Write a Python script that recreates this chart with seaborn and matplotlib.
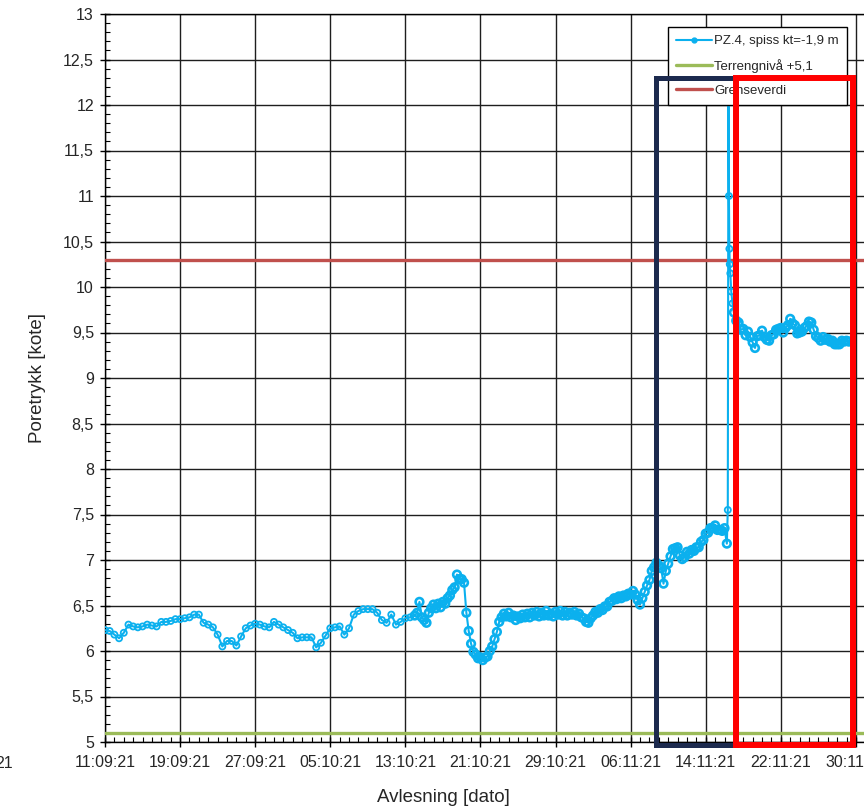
import numpy as np
import pandas as pd
import matplotlib
matplotlib.use("Agg")
import matplotlib.pyplot as plt
import matplotlib.dates as mdates
from matplotlib.ticker import FixedLocator, MultipleLocator, FuncFormatter
from matplotlib.patches import Rectangle
from matplotlib.lines import Line2D
import seaborn as sns

# ---------------------------------------------------------------- data
start_date = "2021-09-11"

# Manual readings, twice a day (11.09 - 13.10)
manual_vals = [
    6.23, 6.22, 6.18, 6.14, 6.20, 6.29, 6.27, 6.26, 6.27, 6.29,
    6.28, 6.27, 6.32, 6.32, 6.33, 6.35, 6.35, 6.36, 6.37, 6.40,
    6.40, 6.31, 6.29, 6.26, 6.18, 6.05, 6.11, 6.11, 6.06, 6.16,
    6.25, 6.28, 6.30, 6.29, 6.27, 6.26, 6.32, 6.29, 6.26, 6.23,
    6.20, 6.14, 6.15, 6.15, 6.15, 6.04, 6.09, 6.17, 6.25, 6.26,
    6.27, 6.18, 6.25, 6.40, 6.44, 6.46, 6.46, 6.46, 6.42, 6.34,
    6.31, 6.40, 6.29, 6.32, 6.36, 6.37,
]

# Logger readings every 6 hours (14.10 - 17.11)
logger_vals = [
    6.39, 6.42, 6.54, 6.37, 6.34, 6.31, 6.42, 6.47,
    6.51, 6.47, 6.52, 6.48, 6.54, 6.52, 6.58, 6.61,
    6.67, 6.70, 6.84, 6.79, 6.79, 6.75, 6.42, 6.22,
    6.08, 5.99, 5.96, 5.92, 5.93, 5.90, 5.93, 5.94,
    6.00, 6.05, 6.13, 6.21, 6.32, 6.37, 6.41, 6.38,
    6.42, 6.37, 6.39, 6.34, 6.38, 6.36, 6.40, 6.37,
    6.41, 6.37, 6.42, 6.39, 6.43, 6.38, 6.42, 6.39,
    6.44, 6.39, 6.41, 6.38, 6.43, 6.40, 6.44, 6.39,
    6.43, 6.39, 6.42, 6.40, 6.43, 6.39, 6.41, 6.37,
    6.36, 6.32, 6.31, 6.36, 6.39, 6.43, 6.42, 6.46,
    6.45, 6.49, 6.49, 6.54, 6.55, 6.58, 6.57, 6.60,
    6.58, 6.61, 6.60, 6.63, 6.62, 6.66, 6.62, 6.56,
    6.51, 6.58, 6.65, 6.72, 6.78, 6.88, 6.92, 6.97,
    6.94, 6.91, 6.74, 6.88, 6.96, 7.04, 7.12, 7.13,
    7.14, 7.05, 7.01, 7.03, 7.09, 7.07, 7.11, 7.10,
    7.14, 7.14, 7.20, 7.22, 7.29, 7.30, 7.35, 7.35,
    7.38, 7.33, 7.33, 7.32, 7.35, 7.18,
]

# Pressure peak on 17.11 (days after start date)
peak_days = [66.35, 66.42, 66.47, 66.52, 66.56, 66.62, 66.72, 66.85]
peak_vals = [7.55, 12.05, 11.00, 10.42, 10.25, 10.15, 9.95, 9.82]

# Logger readings every 6 hours after the peak (18.11 - 30.11)
after_vals = [
    9.72, 9.63, 9.61, 9.53, 9.54, 9.47, 9.51, 9.45,
    9.39, 9.33, 9.46, 9.47, 9.52, 9.45, 9.42, 9.41,
    9.47, 9.48, 9.53, 9.54, 9.55, 9.50, 9.55, 9.58,
    9.65, 9.60, 9.58, 9.49, 9.50, 9.51, 9.55, 9.57,
    9.62, 9.61, 9.53, 9.46, 9.44, 9.41, 9.45, 9.42,
    9.43, 9.40, 9.41, 9.37, 9.37, 9.37, 9.41, 9.40,
    9.41, 9.40,
]

terrain_level = 5.1
limit_value = 10.3

series_label = "PZ.4, spiss kt=-1,9 m"
terrain_label = "Terrengnivå +5,1"
limit_label = "Grenseverdi"

# ---------------------------------------------------------------- timestamps
t0 = pd.Timestamp(start_date)
t_manual = pd.date_range(t0, periods=len(manual_vals), freq="12h")
t_logger = pd.date_range(t0 + pd.Timedelta(days=33), periods=len(logger_vals), freq="6h")
t_peak = t0 + pd.to_timedelta(peak_days, unit="D")
t_after = pd.date_range(t0 + pd.Timedelta(days=67), periods=len(after_vals), freq="6h")

df = pd.DataFrame({
    "Avlesning": list(t_manual) + list(t_logger) + list(t_peak) + list(t_after),
    "Poretrykk": manual_vals + logger_vals + peak_vals + after_vals,
    "Kilde": (["manuell"] * len(manual_vals) + ["logger"] * len(logger_vals)
              + ["topp"] * len(peak_vals) + ["logger"] * len(after_vals)),
})

# ---------------------------------------------------------------- style
sns.set_theme(style="white")
plt.rcParams["font.family"] = ["Liberation Sans", "DejaVu Sans"]

BLUE = "#0bb0ee"
GREEN = "#9bbb59"
RED_LINE = "#c0504d"
NAVY = "#1c2a4e"
RED_BOX = "#ff0000"
TXT = "#262626"

fig = plt.figure(figsize=(8.64, 8.09), dpi=100)
ax = fig.add_axes([105 / 864, 1 - 742 / 809, 826 / 864, 728 / 809])

# measured curve: the connecting line, then the reading markers
sns.lineplot(data=df, x="Avlesning", y="Poretrykk", ax=ax, estimator=None,
             sort=False, color=BLUE, lw=1.5, zorder=4, legend=False)
sns.scatterplot(data=df[df["Kilde"] != "logger"], x="Avlesning", y="Poretrykk",
                ax=ax, marker="o", s=19, facecolors="none", edgecolor=BLUE,
                linewidth=1.3, zorder=5, legend=False)
sns.scatterplot(data=df[df["Kilde"] == "logger"], x="Avlesning", y="Poretrykk",
                ax=ax, marker="o", s=30, facecolors="none", edgecolor=BLUE,
                linewidth=1.9, zorder=5, legend=False)

ax.axhline(terrain_level, color=GREEN, lw=2.4, zorder=3)
ax.axhline(limit_value, color=RED_LINE, lw=2.4, zorder=3)

# ---------------------------------------------------------------- axes
ax.set_xlim(t0, t0 + pd.Timedelta(days=88))
ax.set_ylim(5, 13)

major_dates = pd.date_range(t0, periods=12, freq="8D")
ax.xaxis.set_major_locator(FixedLocator(mdates.date2num(major_dates)))
ax.xaxis.set_minor_locator(mdates.DayLocator())
ax.xaxis.set_major_formatter(mdates.DateFormatter("%d:%m:%y"))

ax.yaxis.set_major_locator(MultipleLocator(0.5))
ax.yaxis.set_minor_locator(MultipleLocator(0.1))
ax.yaxis.set_major_formatter(FuncFormatter(lambda v, _: f"{v:g}".replace(".", ",")))

ax.grid(True, which="major", color="#1e1e1e", lw=1.0, zorder=0)
ax.grid(False, which="minor")
ax.set_axisbelow(True)

for sp in ax.spines.values():
    sp.set_visible(True)
    sp.set_color("black")
    sp.set_linewidth(1.0)

ax.tick_params(axis="both", which="major", direction="inout", length=7, width=1,
               color="black", labelcolor=TXT, labelsize=11.5)
ax.tick_params(axis="both", which="minor", direction="in", length=3.5, width=0.8,
               color="black")
ax.tick_params(axis="x", which="major", pad=6, bottom=True)
ax.tick_params(axis="y", which="major", pad=4.5, left=True)
ax.tick_params(axis="x", which="minor", bottom=True)
ax.tick_params(axis="y", which="minor", left=True)

ax.set_xlabel("Avlesning [dato]", fontsize=13.5, color=TXT)
ax.set_ylabel("Poretrykk [kote]", fontsize=13.5, color=TXT)
ax.xaxis.set_label_coords((443 - 105) / 826, -0.064)
ax.yaxis.set_label_coords(-0.072, 0.5)

# ---------------------------------------------------------------- legend
handles = [
    Line2D([], [], color=BLUE, lw=1.5, marker="o", markersize=3.5,
           markerfacecolor=BLUE, markeredgecolor=BLUE),
    Line2D([], [], color=GREEN, lw=2.4),
    Line2D([], [], color=RED_LINE, lw=2.4),
]
leg = ax.legend(
    handles, [series_label, terrain_label, limit_label],
    loc="upper left", bbox_to_anchor=(668 / 864, 1 - 27 / 809),
    bbox_transform=fig.transFigure, frameon=True, fancybox=False,
    framealpha=1, facecolor="white", edgecolor="black", fontsize=9.5,
    handlelength=2.7, handletextpad=0.2, borderpad=0.6, labelspacing=0.9,
    borderaxespad=0,
)
leg.get_frame().set_linewidth(1.0)
leg.set_zorder(8)
for t in leg.get_texts():
    t.set_color(TXT)

# ---------------------------------------------------------------- marked periods
def day_num(d):
    return mdates.date2num(t0 + pd.Timedelta(days=d))

box_bottom, box_top = 4.967, 12.297
navy_box = Rectangle((day_num(58.75), box_bottom), day_num(67.25) - day_num(58.75),
                     box_top - box_bottom, fill=False, edgecolor=NAVY, lw=3.6,
                     clip_on=False, zorder=10)
red_box = Rectangle((day_num(67.25), box_bottom), day_num(79.71) - day_num(67.25),
                    box_top - box_bottom, fill=False, edgecolor=RED_BOX, lw=4.3,
                    clip_on=False, zorder=11)
ax.add_patch(navy_box)
ax.add_patch(red_box)

fig.text(13 / 864, 1 - 763 / 809, "21", ha="right", va="center", fontsize=11.5, color=TXT)

fig.savefig("out.png", dpi=100)
